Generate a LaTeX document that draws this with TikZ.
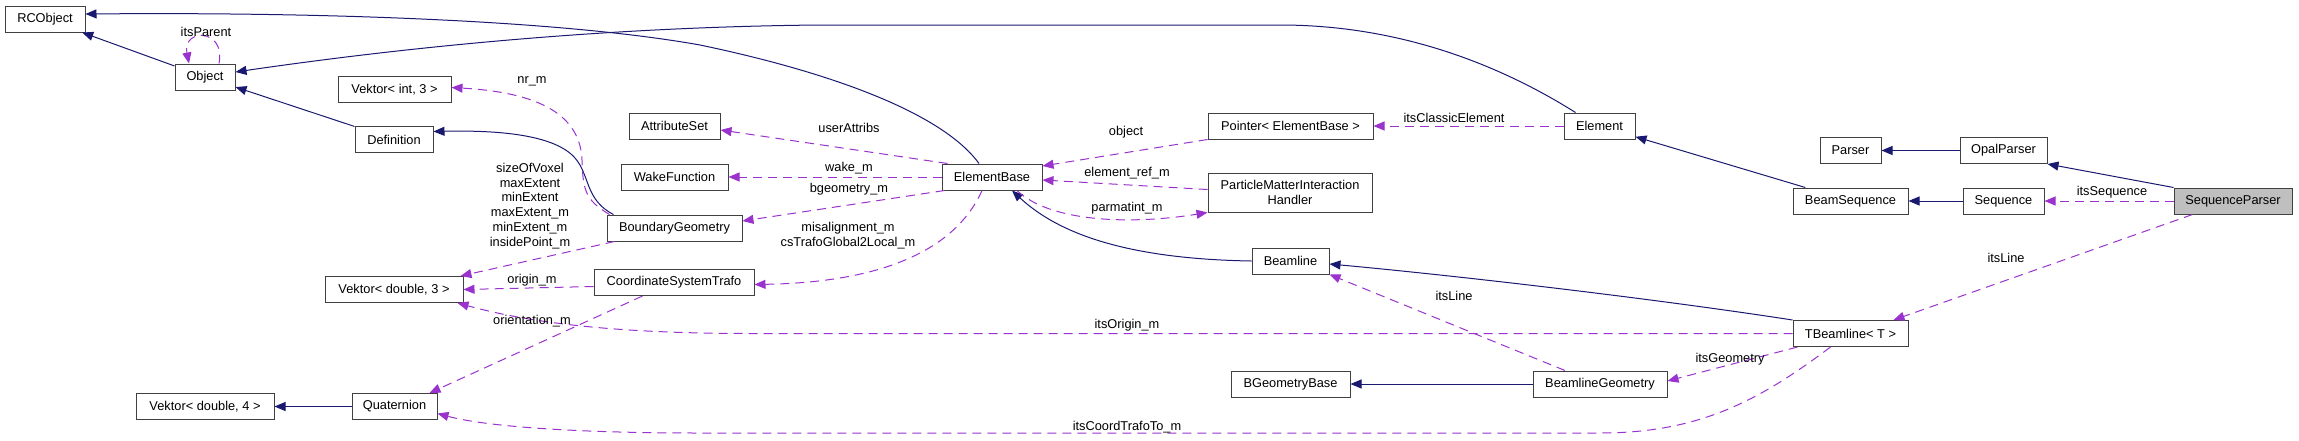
\documentclass[tikz,border=0pt]{standalone}
\usepackage{fontspec}
\setmainfont{Liberation Sans}
\usetikzlibrary{arrows.meta,calc}
\definecolor{edgeblue}{HTML}{191970}
\definecolor{edgepurple}{HTML}{9A32CD}
\definecolor{boxline}{HTML}{404040}
\definecolor{curfill}{HTML}{BFBFBF}
\newcommand{\lblfont}{\fontsize{12.8}{14.8}\selectfont}
\begin{document}
\begin{tikzpicture}[x=1pt,y=-1pt,
  cls/.style={draw=boxline, line width=1pt, fill=white, inner sep=0pt, minimum height=26pt, font=\lblfont, align=center},
  cur/.style={cls, fill=curfill},
  inh/.style={draw=edgeblue, line width=1pt, -{Triangle[length=11pt,width=9pt]}},
  use/.style={draw=edgepurple, line width=1pt, dash pattern=on 9pt off 6pt, -{Triangle[length=11pt,width=9pt]}},
  lbl/.style={font=\lblfont, inner sep=0pt, align=center, text=black}]
\useasboundingbox (0,0) rectangle (2299,440);

% nodes
\node[cls, minimum width=80pt] (RCObject) at (45,19) {RCObject};
\node[cls, minimum width=60pt] (Object) at (205,77) {Object};
\node[cls, minimum width=113pt] (VI3) at (394.5,89.5) {Vektor< int, 3 >};
\node[cls, minimum width=78pt] (Definition) at (394,139.5) {Definition};
\node[cls, minimum width=138pt] (VD3) at (394,289.5) {Vektor< double, 3 >};
\node[cls, minimum width=138pt] (VD4) at (205,406.5) {Vektor< double, 4 >};
\node[cls, minimum width=85pt] (Quaternion) at (394.5,406.5) {Quaternion};
\node[cls, minimum width=91pt] (AttributeSet) at (674.5,126) {AttributeSet};
\node[cls, minimum width=107pt] (WakeFunction) at (674.5,177) {WakeFunction};
\node[cls, minimum width=135pt] (BoundaryGeometry) at (674.5,228) {BoundaryGeometry};
\node[cls, minimum width=160pt] (CST) at (674,282.5) {CoordinateSystemTrafo};
\node[cls, minimum width=100pt] (ElementBase) at (992,177) {ElementBase};
\node[cls, minimum width=165pt] (Pointer) at (1290.5,126) {Pointer< ElementBase >};
\node[cls, minimum width=164pt, minimum height=39pt] (PMIH) at (1290,192.5) {ParticleMatterInteraction\\Handler};
\node[cls, minimum width=77pt] (Beamline) at (1290.5,261) {Beamline};
\node[cls, minimum width=119pt] (BGeometryBase) at (1290.5,384) {BGeometryBase};
\node[cls, minimum width=71pt] (Element) at (1599.5,126) {Element};
\node[cls, minimum width=134pt] (BeamlineGeometry) at (1600,384) {BeamlineGeometry};
\node[cls, minimum width=115pt] (BeamSequence) at (1850.5,201) {BeamSequence};
\node[cls, minimum width=115pt] (TBeamline) at (1850.5,333.5) {TBeamline< T >};
\node[cls, minimum width=61pt] (Parser) at (1850.5,150.5) {Parser};
\node[cls, minimum width=87pt] (OpalParser) at (2003.5,150.5) {OpalParser};
\node[cls, minimum width=81pt] (Sequence) at (2003.5,201) {Sequence};
\node[cur, minimum width=118pt] (SequenceParser) at (2233,201) {SequenceParser};

% inheritance
\draw[inh] (Object) -- (RCObject);
\draw[inh] ($(Element.north)+(-24,0)$) .. controls (1500,65) and (1400,25) .. (1280,25) -- (820,25) .. controls (600,27) and (400,48) .. ($(Object.east)+(0,-5)$);
\draw[inh] ($(ElementBase.north)+(-13,0)$) .. controls (940,110) and (820,70) .. (700,45) .. controls (560,20) and (320,12) .. ($(RCObject.east)+(0,-5)$);
\draw[inh] (Definition) -- (Object);
\draw[inh] ($(BoundaryGeometry.north west)+(7,0)$) .. controls (585,200) and (590,175) .. (575,158) .. controls (555,135) and (500,130) .. ($(Definition.east)+(0,-8)$);
\draw[inh] (Quaternion) -- (VD4);
\draw[inh] (Beamline.west) .. controls (1130,259) and (1060,235) .. ($(ElementBase.south)+(20,0)$);
\draw[inh] (BeamSequence) -- (Element);
\draw[inh] (TBeamline.north west) .. controls (1650,298) and (1450,275) .. ($(Beamline.east)+(0,3)$);
\draw[inh] (BeamlineGeometry) -- (BGeometryBase);
\draw[inh] (Sequence) -- (BeamSequence);
\draw[inh] (OpalParser) -- (Parser);
\draw[inh] (SequenceParser.north west) -- (OpalParser.south east);

% usage
\draw[use] ($(Object.north)+(14,0)$) .. controls (226,28) and (182,28) .. ($(Object.north)+(-16,0)$);
\draw[use] ($(BoundaryGeometry.north west)+(3,0)$) .. controls (585,200) and (583,190) .. (582,160) .. controls (580,110) and (530,92) .. ($(VI3.east)+(0,-2)$);
\draw[use] ($(BoundaryGeometry.south west)+(8,0)$) -- ($(VD3.north east)+(-3,0)$);
\draw[use] ($(CST.west)+(0,4)$) -- (VD3.east);
\draw[use] ($(CST.south west)+(49,0)$) -- ($(Quaternion.north)+(35,0)$);
\draw[use] ($(ElementBase.north west)+(6,0)$) -- ($(AttributeSet.east)+(0,4)$);
\draw[use] (ElementBase) -- (WakeFunction);
\draw[use] ($(ElementBase.south west)+(3,0)$) -- ($(BoundaryGeometry.east)+(0,-7)$);
\draw[use] ($(ElementBase.south)+(-10,0)$) .. controls (960,240) and (900,282) .. ($(CST.east)+(0,2)$);
\draw[use] (Pointer.south west) -- ($(ElementBase.east)+(0,-11)$);
\draw[use] ($(PMIH.west)+(0,-3)$) .. controls (1130,185) .. ($(ElementBase.east)+(0,3)$);
\draw[use] ($(ElementBase.south)+(25,0)$) .. controls (1050,222) and (1130,225) .. (PMIH.south west);
\draw[use] (Element) -- (Pointer);
\draw[use] ($(BeamlineGeometry.north)+(-35,0)$) -- (Beamline.south east);
\draw[use] ($(TBeamline.south west)+(5,0)$) -- ($(BeamlineGeometry.east)+(0,-3)$);
\draw[use] (TBeamline.west) -- (750,333.5) .. controls (600,333.5) and (520,320) .. ($(VD3.south east)+(-6,0)$);
\draw[use] ($(TBeamline.south)+(-20,0)$) .. controls (1760,400) and (1700,433) .. (1600,433) -- (700,433) .. controls (560,433) and (480,425) .. ($(Quaternion.east)+(0,7)$);
\draw[use] (SequenceParser) -- (Sequence);
\draw[use] ($(SequenceParser.south west)+(19,0)$) -- ($(TBeamline.north east)+(-15,0)$);

% labels
\node[lbl] (l1) at (206,32) {itsParent};
\node[lbl] (l2) at (532,81) {nr\_m};
\node[lbl] (l3) at (530,206) {sizeOfVoxel\\maxExtent\\minExtent\\maxExtent\_m\\minExtent\_m\\insidePoint\_m};
\node[lbl] (l4) at (532,280) {origin\_m};
\node[lbl] (l5) at (532,321) {orientation\_m};
\node[lbl] (l6) at (849,128) {userAttribs};
\node[lbl] (l7) at (849,168) {wake\_m};
\node[lbl] (l8) at (849,189) {bgeometry\_m};
\node[lbl] (l9) at (848,236) {misalignment\_m\\csTrafoGlobal2Local\_m};
\node[lbl] (l10) at (1126,132) {object};
\node[lbl] (l11) at (1127,173) {element\_ref\_m};
\node[lbl] (l12) at (1127,208) {parmatint\_m};
\node[lbl] (l13) at (1454,118) {itsClassicElement};
\node[lbl] (l14) at (1454,296) {itsLine};
\node[lbl] (l15) at (1730,359) {itsGeometry};
\node[lbl] (l16) at (1127,325) {itsOrigin\_m};
\node[lbl] (l17) at (1127,427) {itsCoordTrafoTo\_m};
\node[lbl] (l18) at (2112,192) {itsSequence};
\node[lbl] (l19) at (2006,258) {itsLine};
\end{tikzpicture}
\end{document}
